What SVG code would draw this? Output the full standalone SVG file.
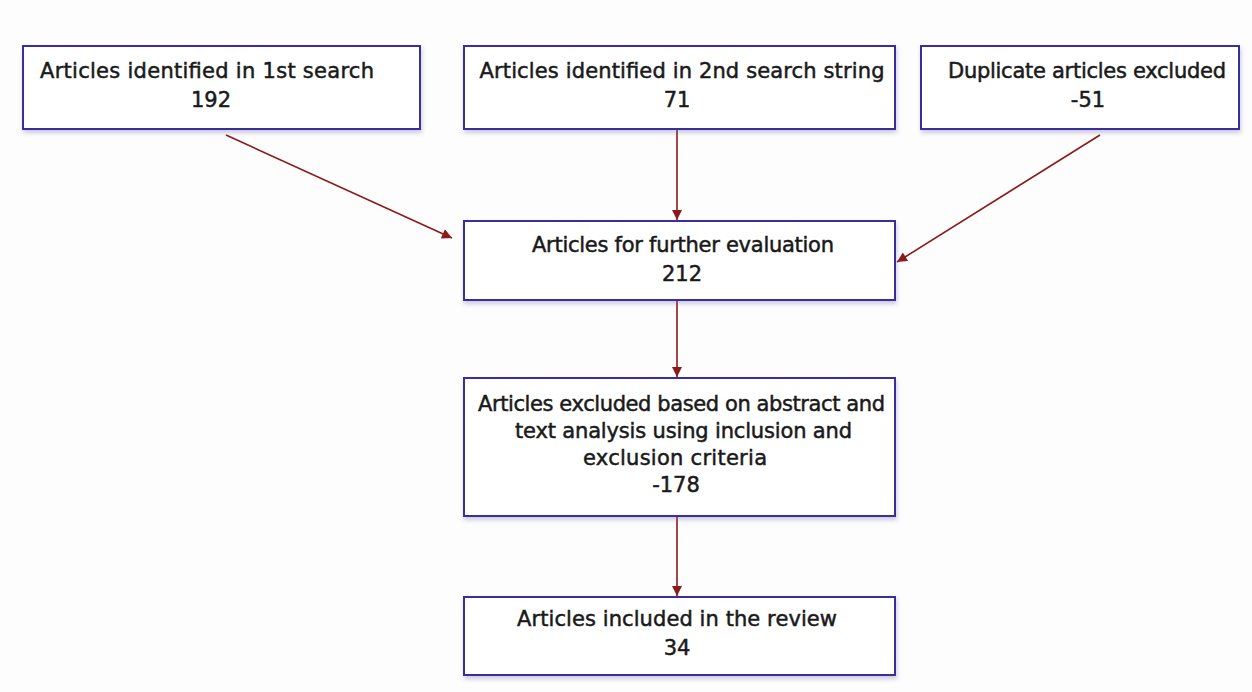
<svg xmlns="http://www.w3.org/2000/svg" width="1252" height="692" viewBox="0 0 1252 692">
<style>
.box{fill:#fff;stroke:#3b2f9c;stroke-width:2;filter:url(#sh)}
.t{font-family:"DejaVu Sans",Verdana,sans-serif;font-size:21px;fill:#1a1a1a;stroke:#1a1a1a;stroke-width:0.5;text-anchor:middle}
.c{stroke:#8b1a1a;stroke-width:1.6;fill:none;marker-end:url(#ah)}
</style>
<defs>
<filter id="sh" x="-5%" y="-10%" width="110%" height="130%">
<feDropShadow dx="1" dy="3" stdDeviation="2" flood-color="#6a6aa0" flood-opacity="0.35"/>
</filter>
<marker id="ah" viewBox="0 0 10 10" refX="10" refY="5" markerWidth="11" markerHeight="10" markerUnits="userSpaceOnUse" orient="auto">
<path d="M0,0 L10,5 L0,10 z" fill="#8b1a1a"/>
</marker>
</defs>
<rect width="1252" height="692" fill="#fdfdfe"/>
<g id="connectors">
<line class="c" x1="226" y1="135" x2="452" y2="238"/>
<line class="c" x1="677" y1="130" x2="677" y2="220"/>
<line class="c" x1="1100" y1="135" x2="897" y2="262"/>
<line class="c" x1="677" y1="301" x2="677" y2="377"/>
<line class="c" x1="677" y1="517" x2="677" y2="596"/>
</g>
<g id="n1">
<rect class="box" x="23" y="46" width="397" height="83"/>
<text class="t" x="207" y="78" textLength="334">Articles identified in 1st search</text>
<text class="t" x="211" y="107">192</text>
</g>
<g id="n2">
<rect class="box" x="464" y="46" width="431" height="83"/>
<text class="t" x="682" y="78" textLength="405">Articles identified in 2nd search string</text>
<text class="t" x="677" y="107">71</text>
</g>
<g id="n3">
<rect class="box" x="921" y="46" width="318" height="83"/>
<text class="t" x="1087" y="78" textLength="278">Duplicate articles excluded</text>
<text class="t" x="1088" y="107">-51</text>
</g>
<g id="n4">
<rect class="box" x="464" y="221" width="431" height="79"/>
<text class="t" x="683" y="252" textLength="302">Articles for further evaluation</text>
<text class="t" x="682" y="281">212</text>
</g>
<g id="n5">
<rect class="box" x="464" y="378" width="431" height="138"/>
<text class="t" x="681.5" y="411" textLength="407">Articles excluded based on abstract and</text>
<text class="t" x="683.5" y="438" textLength="337">text analysis using inclusion and</text>
<text class="t" x="675" y="465" textLength="184">exclusion criteria</text>
<text class="t" x="676" y="492">-178</text>
</g>
<g id="n6">
<rect class="box" x="464" y="597" width="431" height="78"/>
<text class="t" x="677" y="626" textLength="320">Articles included in the review</text>
<text class="t" x="677" y="655">34</text>
</g>
</svg>
